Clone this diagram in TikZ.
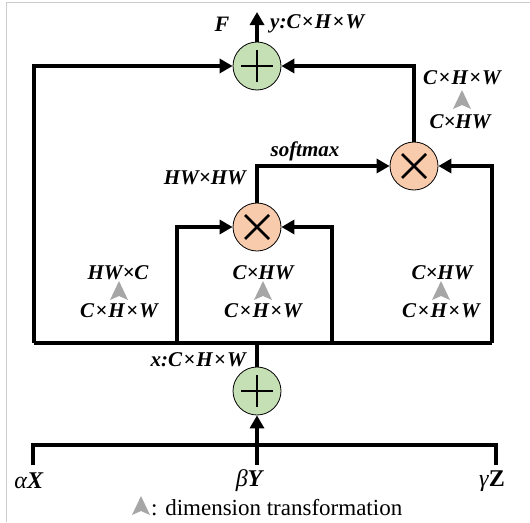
\documentclass[tikz,border=0pt]{standalone}
\usepackage{fontspec}
\setmainfont{Liberation Serif}
\usetikzlibrary{arrows.meta}
\definecolor{gplus}{HTML}{C5E0B4}
\definecolor{omul}{HTML}{F8CBAD}
\definecolor{tgray}{HTML}{A6A6A6}
\newcommand{\tms}{\kern1.2pt×\kern1.2pt}
\begin{document}
\begin{tikzpicture}[x=1pt,y=-1pt,
  wire/.style={line width=4pt},
  arr/.style={wire,-{Triangle[length=13pt,width=14pt]}},
  opc/.style={circle,draw=black,line width=0.8pt,minimum size=48pt,inner sep=0pt},
  lab/.style={font=\fontsize{21}{23}\selectfont\bfseries\itshape,inner sep=0pt},
  dimtri/.pic={\fill[tgray] (0,-10) -- (9,9) -- (0,5) -- (-9,9) -- cycle;}
]
\useasboundingbox (0,0) rectangle (530,522);
\draw[gray!40,line width=1pt] (6,522) -- (6,2) -- (530,2);

% operators
\node[opc,fill=gplus] (p1) at (257,66) {};
\node[opc,fill=omul] (m2) at (414,166) {};
\node[opc,fill=omul] (m1) at (257,227) {};
\node[opc,fill=gplus] (p2) at (257,391) {};
\foreach \n in {p1,p2}{
  \draw[line width=2.6pt] ([xshift=-16pt]\n.center) -- ([xshift=16pt]\n.center);
  \draw[line width=2.6pt] ([yshift=-16pt]\n.center) -- ([yshift=16pt]\n.center);
}
\foreach \n in {m1,m2}{
  \draw[line width=2.6pt] ([shift={(-12pt,-12pt)}]\n.center) -- ([shift={(12pt,12pt)}]\n.center);
  \draw[line width=2.6pt] ([shift={(-12pt,12pt)}]\n.center) -- ([shift={(12pt,-12pt)}]\n.center);
}

% coordinates
\coordinate (out) at (257,12);
\coordinate (bl) at (34,343);
\coordinate (br) at (492,343);
\coordinate (bi1) at (177,343);
\coordinate (bi2) at (332,343);
\coordinate (bm) at (257,343);
\coordinate (il) at (33,465);
\coordinate (ir) at (496,465);
\coordinate (im) at (257,465);

% connectors
\draw[arr] (p1.north) -- (out);
\draw[arr] (bl) -- (34,66) -- (p1.west);
\draw[arr] (m2.north) -- (414,66) -- (p1.east);
\draw[arr] (m1.north) -- (257,166) -- (m2.west);
\draw[arr] (br) -- (492,166) -- (m2.east);
\draw[arr] (bi1) -- (177,227) -- (m1.west);
\draw[arr] (bi2) -- (332,227) -- (m1.east);
\draw[wire] (bl) -- (br);
\draw[wire] (bm) -- (p2.north);
\draw[wire] (il) -- (33,445) -- (496,445) -- (ir);
\draw[arr] (im) -- (p2.south);

% labels
\node[lab,font=\fontsize{22}{24}\selectfont\bfseries\itshape] (F) at (222,24) {F};
\node[lab,anchor=west] (yl) at (270,24) {y:C\tms H\tms W};
\node[lab] (r1) at (462,78) {C\tms H\tms W};
\pic at (462,100) {dimtri};
\node[lab] (r2) at (460,122) {C×HW};
\node[lab] (sm) at (305,151) {softmax};
\node[lab,anchor=east] (hw) at (246,178) {HW×HW};
\node[lab] (a1) at (118,273) {HW×C};
\pic at (119,291) {dimtri};
\node[lab] (a2) at (119,311) {C\tms H\tms W};
\node[lab] (b1) at (263,273) {C×HW};
\pic at (263,291) {dimtri};
\node[lab] (b2) at (263,311) {C\tms H\tms W};
\node[lab] (c1) at (442,273) {C×HW};
\pic at (441,291) {dimtri};
\node[lab] (c2) at (441,311) {C\tms H\tms W};
\node[lab,anchor=east] (xl) at (246,360) {x:C\tms H\tms W};
\node[lab,font=\fontsize{24}{26}\selectfont] (ax) at (29,481) {\textit{\mdseries α}\textbf{\textit{X}}};
\node[lab,font=\fontsize{24}{26}\selectfont] (by) at (250,481) {\textit{\mdseries β}\textbf{\textit{Y}}};
\node[lab,font=\fontsize{24}{26}\selectfont] (gz) at (492,481) {\textit{\mdseries γ}\textbf{\textup{Z}}};
\pic at (141,506) {dimtri};
\node[anchor=west,inner sep=0pt,font=\fontsize{23}{25}\selectfont] (leg) at (151,508) {: dimension transformation};
\end{tikzpicture}
\end{document}
